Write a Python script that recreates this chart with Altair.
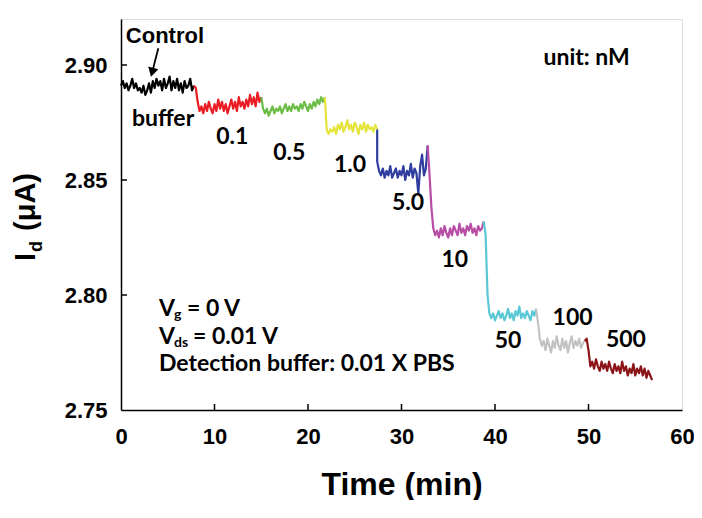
import altair as alt
import pandas as pd

# ---------------- data ----------------
seg_names = ["buffer", "0.1", "0.5", "1.0", "5.0", "10", "50", "100", "500"]
seg_colors = ["#000000", "#ec1c24", "#6cbd45", "#e4e43c", "#2f3e9e",
              "#b84da6", "#5cc8d6", "#c3c3c3", "#8c1418"]
seg_start = [0.0, 8.0, 15.2, 22.0, 27.4, 33.0, 39.0, 44.6, 49.8]
step = 0.2

v_buffer = [2.891, 2.893, 2.890, 2.892, 2.889, 2.891, 2.894, 2.890, 2.892, 2.889,
            2.890, 2.888, 2.891, 2.887, 2.889, 2.892, 2.888, 2.893, 2.890, 2.894,
            2.891, 2.893, 2.889, 2.894, 2.890, 2.892, 2.895, 2.889, 2.893, 2.890,
            2.894, 2.889, 2.892, 2.888, 2.893, 2.890, 2.891, 2.894, 2.889, 2.891]
v_01 = [2.890, 2.884, 2.880, 2.882, 2.879, 2.883, 2.880, 2.884, 2.881, 2.879,
        2.883, 2.880, 2.885, 2.881, 2.884, 2.880, 2.883, 2.879, 2.882, 2.885,
        2.881, 2.884, 2.880, 2.886, 2.882, 2.884, 2.881, 2.885, 2.882, 2.887,
        2.883, 2.886, 2.882, 2.888, 2.884, 2.886]
v_05 = [2.881, 2.879, 2.881, 2.878, 2.880, 2.882, 2.879, 2.881, 2.880, 2.882,
        2.879, 2.881, 2.883, 2.880, 2.882, 2.880, 2.883, 2.881, 2.882, 2.880,
        2.883, 2.881, 2.884, 2.882, 2.880, 2.883, 2.881, 2.884, 2.882, 2.885,
        2.883, 2.886, 2.884, 2.886]
v_10 = [2.872, 2.870, 2.872, 2.871, 2.873, 2.870, 2.874, 2.872, 2.875, 2.871,
        2.873, 2.876, 2.872, 2.874, 2.871, 2.875, 2.873, 2.870, 2.874, 2.872,
        2.875, 2.871, 2.874, 2.872, 2.873, 2.871, 2.874, 2.872]
v_50 = [2.858, 2.854, 2.852, 2.855, 2.851, 2.854, 2.852, 2.856, 2.851, 2.853,
        2.855, 2.851, 2.854, 2.852, 2.856, 2.850, 2.854, 2.852, 2.857, 2.851,
        2.855, 2.853, 2.844, 2.856, 2.861, 2.852, 2.855, 2.865]
v_10nM = [2.852, 2.838, 2.829, 2.826, 2.828, 2.825, 2.829, 2.826, 2.830, 2.827,
          2.825, 2.829, 2.826, 2.830, 2.828, 2.826, 2.831, 2.827, 2.829, 2.826,
          2.830, 2.828, 2.831, 2.827, 2.829, 2.826, 2.830, 2.828, 2.829, 2.832]
v_50nM = [2.826, 2.800, 2.792, 2.790, 2.792, 2.789, 2.791, 2.793, 2.790, 2.792,
          2.789, 2.791, 2.794, 2.790, 2.792, 2.789, 2.793, 2.791, 2.795, 2.790,
          2.792, 2.790, 2.793, 2.791, 2.789, 2.793, 2.791, 2.794]
v_100nM = [2.788, 2.781, 2.778, 2.780, 2.776, 2.781, 2.778, 2.775, 2.780, 2.777,
           2.782, 2.778, 2.776, 2.781, 2.777, 2.780, 2.775, 2.779, 2.782, 2.777,
           2.780, 2.778, 2.781, 2.777, 2.779, 2.780]
v_500nM = [2.781, 2.776, 2.769, 2.771, 2.768, 2.772, 2.769, 2.767, 2.771, 2.768,
           2.770, 2.767, 2.771, 2.768, 2.766, 2.770, 2.767, 2.769, 2.766, 2.771,
           2.767, 2.769, 2.765, 2.768, 2.766, 2.770, 2.765, 2.768, 2.766, 2.769,
           2.765, 2.768, 2.764, 2.767, 2.765, 2.763]
seg_values = [v_buffer, v_01, v_05, v_10, v_50, v_10nM, v_50nM, v_100nM, v_500nM]

# concentration labels
conc_labels = ["buffer", "0.1", "0.5", "1.0", "5.0", "10", "50", "100", "500"]
conc_t = [4.5, 11.9, 18.0, 24.5, 30.7, 35.7, 41.4, 48.3, 54.0]
conc_v = [2.8764, 2.8686, 2.8619, 2.8565, 2.8401, 2.8152, 2.7801, 2.7901, 2.7804]

x_ticks = [0, 10, 20, 30, 40, 50, 60]
y_ticks = [2.75, 2.80, 2.85, 2.90]
x_inner_ticks = [10, 20, 30, 40, 50]
y_inner_ticks = [2.80, 2.85, 2.90]

# ---------------- build table ----------------
rows = []
prev = None
for name, start, vals in zip(seg_names, seg_start, seg_values):
    if prev is not None:
        rows.append({"t": prev[0], "v": prev[1], "seg": name})
    for i, val in enumerate(vals):
        rows.append({"t": round(start + step * i, 3), "v": val, "seg": name})
    prev = (rows[-1]["t"], rows[-1]["v"])
df = pd.DataFrame(rows)

W, H = 561, 391
XS = alt.Scale(domain=[0, 60], nice=False)
YS = alt.Scale(domain=[2.75, 2.92], nice=False, zero=False)
AX = "Liberation Sans"
LB = "Lato"
FS = 23

lines = alt.Chart(df).mark_line(strokeWidth=2.2, strokeJoin="round").encode(
    x=alt.X("t:Q", scale=XS, axis=alt.Axis(
        values=x_ticks, format="d", title="Time (min)", ticks=False,
        labelFont=AX, labelFontSize=22, labelFontWeight="bold", labelColor="black",
        labelPadding=16, titleFont=AX, titleFontSize=32, titleFontWeight="bold",
        titleColor="black", titlePadding=22, domainColor="black", domainWidth=1.5,
        grid=False, labelFlush=False)),
    y=alt.Y("v:Q", scale=YS, axis=alt.Axis(
        values=y_ticks, format=".2f", title=None, ticks=False,
        labelFont=AX, labelFontSize=22, labelFontWeight="bold", labelColor="black",
        labelPadding=14, domainColor="black", domainWidth=1.5, grid=False,
        labelFlush=False)),
    color=alt.Color("seg:N", scale=alt.Scale(domain=seg_names, range=seg_colors), legend=None),
    order="t:Q",
)

xt = alt.Chart(pd.DataFrame({"xt": x_inner_ticks})).mark_rule(color="black", strokeWidth=1.5).encode(
    x=alt.X("xt:Q", scale=XS), y=alt.value(H), y2=alt.value(H - 6))
yt = alt.Chart(pd.DataFrame({"yt": y_inner_ticks})).mark_rule(color="black", strokeWidth=1.5).encode(
    y=alt.Y("yt:Q", scale=YS), x=alt.value(0), x2=alt.value(6))

conc = alt.Chart(pd.DataFrame({"t": conc_t, "v": conc_v, "s": conc_labels})).mark_text(
    font=LB, fontSize=FS, fontWeight="bold", color="black", align="center", baseline="middle"
).encode(x=alt.X("t:Q", scale=XS), y=alt.Y("v:Q", scale=YS), text="s:N")

unit = alt.Chart(pd.DataFrame({"t": [49.8], "v": [2.903], "s": ["unit: nM"]})).mark_text(
    font=LB, fontSize=FS, fontWeight="bold", color="black", align="center", baseline="middle"
).encode(x=alt.X("t:Q", scale=XS), y=alt.Y("v:Q", scale=YS), text="s:N")

control = alt.Chart(pd.DataFrame({"t": [4.7], "v": [2.9126], "s": ["Control"]})).mark_text(
    font=AX, fontSize=22, fontWeight="bold", color="black", align="center", baseline="middle"
).encode(x=alt.X("t:Q", scale=XS), y=alt.Y("v:Q", scale=YS), text="s:N")

arrow_df = pd.DataFrame({"t": [3.99, 3.33], "v": [2.9073, 2.8968]})
arrow = alt.Chart(arrow_df).mark_line(color="black", strokeWidth=1.8).encode(
    x=alt.X("t:Q", scale=XS), y=alt.Y("v:Q", scale=YS))
head = alt.Chart(pd.DataFrame({"t": [3.33], "v": [2.8968]})).mark_point(
    shape="triangle-down", filled=True, color="black", size=110, angle=15, opacity=1
).encode(x=alt.X("t:Q", scale=XS), y=alt.Y("v:Q", scale=YS))

# condition text (with subscripts)
cond_t = 4.06
cond_v = [2.7939, 2.7819, 2.7700]
cond_main = pd.DataFrame({
    "t": [cond_t] * 3, "v": cond_v,
    "s": ["V", "V", "Detection buffer: 0.01 X PBS"],
})
cond = alt.Chart(cond_main).mark_text(
    font=LB, fontSize=FS, fontWeight="bold", color="black", align="left", baseline="middle"
).encode(x=alt.X("t:Q", scale=XS), y=alt.Y("v:Q", scale=YS), text="s:N")
sub1 = alt.Chart(pd.DataFrame({"t": [cond_t], "v": [cond_v[0]], "s": ["g"]})).mark_text(
    font=LB, fontSize=14, fontWeight="bold", color="black", align="left", baseline="middle", dx=15, dy=6
).encode(x=alt.X("t:Q", scale=XS), y=alt.Y("v:Q", scale=YS), text="s:N")
rest1 = alt.Chart(pd.DataFrame({"t": [cond_t], "v": [cond_v[0]], "s": ["= 0 V"]})).mark_text(
    font=LB, fontSize=FS, fontWeight="bold", color="black", align="left", baseline="middle", dx=28
).encode(x=alt.X("t:Q", scale=XS), y=alt.Y("v:Q", scale=YS), text="s:N")
sub2 = alt.Chart(pd.DataFrame({"t": [cond_t], "v": [cond_v[1]], "s": ["ds"]})).mark_text(
    font=LB, fontSize=14, fontWeight="bold", color="black", align="left", baseline="middle", dx=15, dy=6
).encode(x=alt.X("t:Q", scale=XS), y=alt.Y("v:Q", scale=YS), text="s:N")
rest2 = alt.Chart(pd.DataFrame({"t": [cond_t], "v": [cond_v[1]], "s": ["= 0.01 V"]})).mark_text(
    font=LB, fontSize=FS, fontWeight="bold", color="black", align="left", baseline="middle", dx=34
).encode(x=alt.X("t:Q", scale=XS), y=alt.Y("v:Q", scale=YS), text="s:N")

# y-axis title I_d (μA), rotated
yt_I = alt.Chart(pd.DataFrame({"s": ["I"]})).mark_text(
    font=AX, fontSize=29, fontWeight="bold", color="black", angle=270, align="left", baseline="alphabetic"
).encode(x=alt.value(-86), y=alt.value(242), text="s:N")
yt_d = alt.Chart(pd.DataFrame({"s": ["d"]})).mark_text(
    font=AX, fontSize=18, fontWeight="bold", color="black", angle=270, align="left", baseline="alphabetic"
).encode(x=alt.value(-79), y=alt.value(233), text="s:N")
yt_u = alt.Chart(pd.DataFrame({"s": ["(μA)"]})).mark_text(
    font=AX, fontSize=29, fontWeight="bold", color="black", angle=270, align="left", baseline="alphabetic"
).encode(x=alt.value(-86), y=alt.value(212), text="s:N")

chart = alt.layer(
    lines, xt, yt, conc, unit, control, arrow, head, cond, sub1, rest1, sub2, rest2,
    yt_I, yt_d, yt_u
).properties(
    width=W, height=H,
    autosize=alt.AutoSizeParams(type="none"),
    padding={"left": 113, "top": 11, "right": 12, "bottom": 90},
).configure_view(stroke="black", strokeWidth=1.5).configure(background="white")

chart.save("out.html", embed_options={"renderer": "svg", "actions": False})
